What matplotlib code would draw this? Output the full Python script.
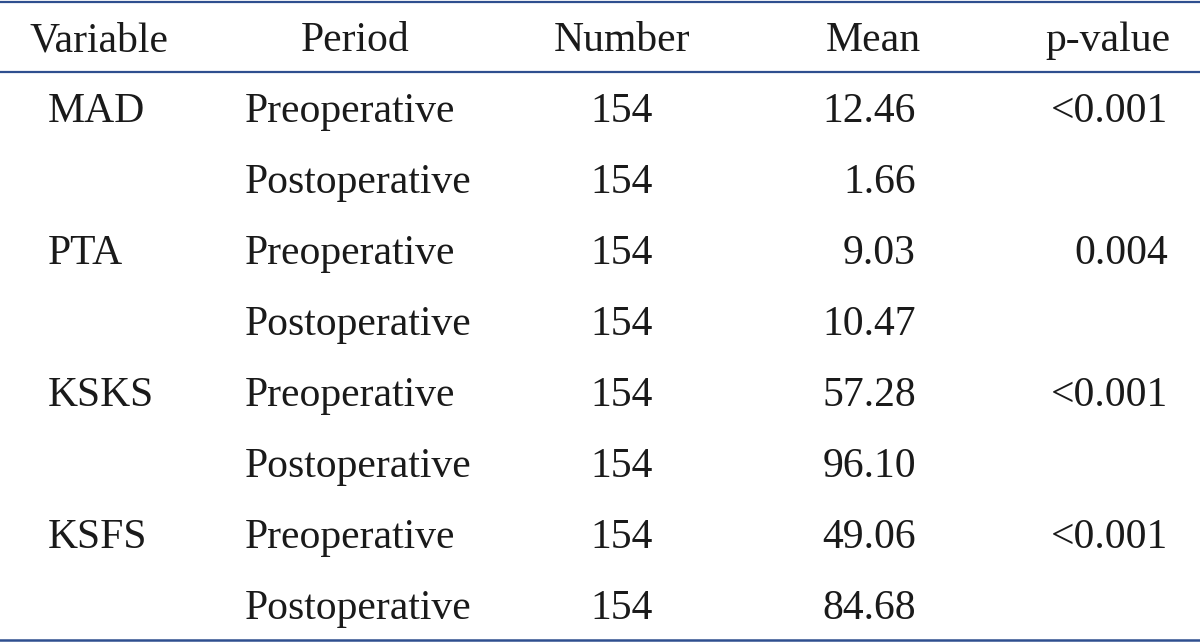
import matplotlib.pyplot as plt

variables = ["MAD", "", "PTA", "", "KSKS", "", "KSFS", ""]
periods = ["Preoperative", "Postoperative"] * 4
numbers = [154, 154, 154, 154, 154, 154, 154, 154]
means = [12.46, 1.66, 9.03, 10.47, 57.28, 96.10, 49.06, 84.68]
pvalues = ["<0.001", "", "0.004", "", "<0.001", "", "<0.001", ""]
headers = ["Variable", "Period", "Number", "Mean", "p-value"]

plt.rcParams['font.family'] = ['Liberation Serif', 'DejaVu Serif']

fig = plt.figure(figsize=(12, 6.42), dpi=100)
ax = fig.add_axes([0, 0, 1, 1])
ax.set_xlim(0, 1200)
ax.set_ylim(642, 0)
ax.axis('off')

line_color = '#2f4f8f'
fs = 30
txt = '#1a1a1a'

# rules
ax.axhline(2, color=line_color, lw=1.6)
ax.axhline(71.5, color=line_color, lw=1.6)
ax.axhline(639.5, color=line_color, lw=1.8)

# header
head_x = [99, 355, 622, 921, 1170]
head_ha = ['center', 'center', 'center', 'right', 'right']
for h, x, ha in zip(headers, head_x, head_ha):
    ax.text(x, 51, h, ha=ha, va='baseline', fontsize=fs, color=txt)

# rows
y0 = 122
dy = 71
for i in range(len(periods)):
    y = y0 + i * dy
    ax.text(48, y, variables[i], ha='left', va='baseline', fontsize=fs, color=txt)
    ax.text(245, y, periods[i], ha='left', va='baseline', fontsize=fs, color=txt)
    ax.text(622, y, str(numbers[i]), ha='center', va='baseline', fontsize=fs, color=txt)
    ax.text(916, y, "%.2f" % means[i], ha='right', va='baseline', fontsize=fs, color=txt)
    ax.text(1168, y, pvalues[i], ha='right', va='baseline', fontsize=fs, color=txt)

plt.savefig("out.png", dpi=100)
